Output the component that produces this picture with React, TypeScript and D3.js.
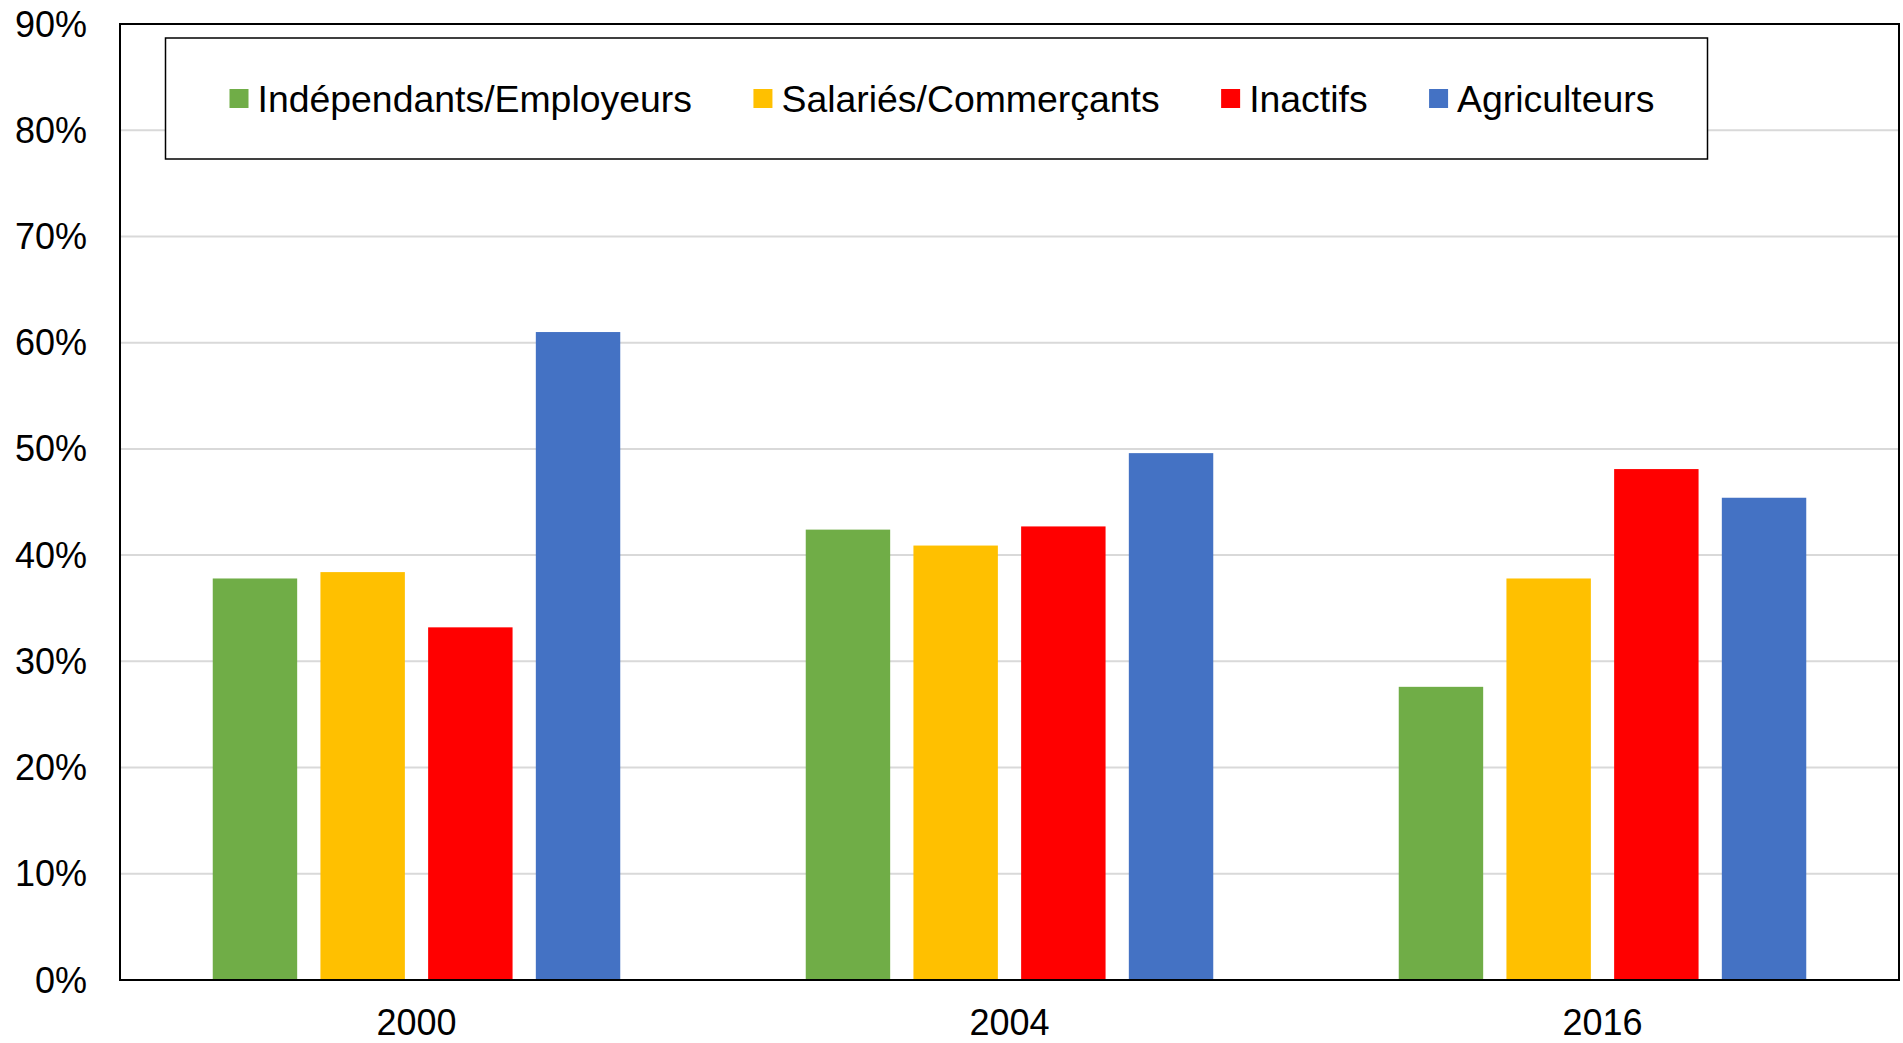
import React, { useRef, useEffect } from 'react'
import * as d3 from 'd3'

const years = ['2000', '2004', '2016']
const series = ['Indépendants/Employeurs', 'Salariés/Commerçants', 'Inactifs', 'Agriculteurs']
const colors = ['#70AD47', '#FFC000', '#FF0000', '#4472C4']
// values in %, one array per series, in the order of years
const independants = [37.8, 42.4, 27.6]
const salaries = [38.4, 40.9, 37.8]
const inactifs = [33.2, 42.7, 48.1]
const agriculteurs = [61.0, 49.6, 45.4]
const yTicks = [0, 10, 20, 30, 40, 50, 60, 70, 80, 90]

const values = [independants, salaries, inactifs, agriculteurs]
const FONT = '"Liberation Sans", Arial, sans-serif'

export default function App() {
  const ref = useRef<SVGSVGElement>(null)
  useEffect(() => {
    if (!ref.current) return
    const svg = d3.select(ref.current)
    svg.selectAll('*').remove()

    // plot area
    const [top, right, bottom, left] = [24, 1899, 980, 120]

    const y = d3.scaleLinear().domain([0, 90]).range([bottom, top])
    const x0 = d3.scaleBand<string>()
      .domain(years)
      .range([left, right])
      .paddingInner(0.3128)
      .paddingOuter(0.1564)
    const x1 = d3.scaleBand<number>()
      .domain(d3.range(series.length))
      .range([0, x0.bandwidth()])
      .paddingInner(0.216)
      .paddingOuter(0)

    // grid
    svg.append('g')
      .selectAll('line')
      .data(yTicks.filter(t => t > 0 && t < 90))
      .join('line')
      .attr('x1', left)
      .attr('x2', right)
      .attr('y1', d => y(d))
      .attr('y2', d => y(d))
      .attr('stroke', '#D9D9D9')
      .attr('stroke-width', 2)

    // bars
    const groups = svg.append('g')
      .selectAll('g')
      .data(years)
      .join('g')
      .attr('transform', d => `translate(${x0(d)},0)`)
    groups.selectAll('rect')
      .data((_, i) => values.map((s, k) => ({ k, v: s[i] })))
      .join('rect')
      .attr('x', d => x1(d.k)!)
      .attr('width', x1.bandwidth())
      .attr('y', d => y(d.v))
      .attr('height', d => bottom - y(d.v))
      .attr('fill', d => colors[d.k])

    // frame
    svg.append('rect')
      .attr('x', left)
      .attr('y', top)
      .attr('width', right - left)
      .attr('height', bottom - top)
      .attr('fill', 'none')
      .attr('stroke', '#000')
      .attr('stroke-width', 2)

    // y labels
    svg.append('g')
      .selectAll('text')
      .data(yTicks)
      .join('text')
      .attr('x', 87)
      .attr('y', d => y(d))
      .attr('text-anchor', 'end')
      .attr('dominant-baseline', 'central')
      .attr('font-family', FONT)
      .attr('font-size', 36)
      .text(d => d + '%')

    // x labels
    svg.append('g')
      .selectAll('text')
      .data(years)
      .join('text')
      .attr('x', d => x0(d)! + x0.bandwidth() / 2)
      .attr('y', 1035)
      .attr('text-anchor', 'middle')
      .attr('font-family', FONT)
      .attr('font-size', 36)
      .text(d => d)

    // legend
    svg.append('rect')
      .attr('x', 165.5)
      .attr('y', 38)
      .attr('width', 1542)
      .attr('height', 121)
      .attr('fill', '#fff')
      .attr('stroke', '#000')
      .attr('stroke-width', 1.5)
    let lx = 229.5
    series.forEach((name, i) => {
      svg.append('rect')
        .attr('x', lx)
        .attr('y', 89)
        .attr('width', 19)
        .attr('height', 19)
        .attr('fill', colors[i])
      const t = svg.append('text')
        .attr('x', lx + 28)
        .attr('y', 98.5)
        .attr('dominant-baseline', 'central')
        .attr('font-family', FONT)
        .attr('font-size', 37.4)
        .text(name)
      const w = (t.node() as SVGTextElement).getComputedTextLength()
      lx += 28 + w + 61.5
    })
  }, [])

  return (
    <svg
      ref={ref}
      width={1903}
      height={1043}
      style={{ position: 'absolute', left: 0, top: 0, background: '#fff' }}
    />
  )
}
